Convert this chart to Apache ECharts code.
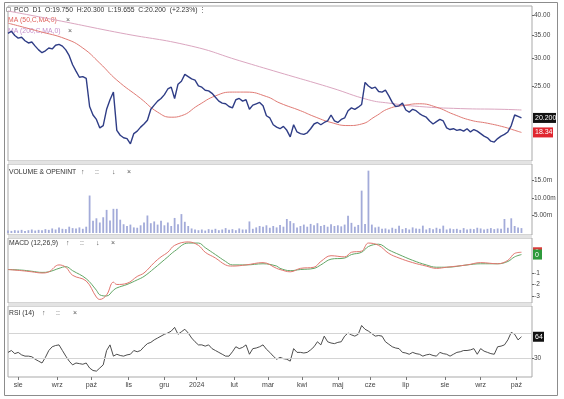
<!DOCTYPE html>
<html>
<head>
<meta charset="utf-8">
<script src="https://cdn.jsdelivr.net/npm/echarts@6/dist/echarts.min.js"></script>
<style>
  html, body { margin: 0; padding: 0; background: #fff; }
  #main { width: 564px; height: 399px; }
</style>
</head>
<body>
<div id="main"></div>
<script>
// one point every 2 sessions, Jul 2023 -> Oct 2024
const closes = [
  35.5, 36.0, 35.0, 34.4, 34.6, 33.8, 33.3, 33.5, 32.6, 31.8,
  31.2, 31.6, 32.2, 32.0, 32.8, 33.0, 32.6, 31.8, 30.6, 28.8,
  27.6, 26.5, 26.6, 26.3, 21.8, 20.6, 20.0, 18.9, 19.2, 21.4,
  22.8, 24.0, 18.6, 18.0, 17.7, 17.6, 17.0, 18.2, 18.5, 19.0,
  19.4, 19.9, 21.4, 22.0, 22.6, 23.0, 23.6, 24.5, 24.8, 23.0,
  25.3, 25.8, 27.0, 26.6, 26.2, 26.0, 25.0, 24.8, 24.3, 24.2,
  23.8, 23.2, 22.6, 22.3, 22.2, 21.8, 21.6, 22.8, 23.0, 22.6,
  22.8, 21.4, 22.0, 22.2, 22.4, 21.9, 20.5, 20.2, 19.3, 19.0,
  18.8, 19.1, 18.6, 17.8, 19.3, 18.4, 18.2, 18.1, 18.3, 18.8,
  19.4, 19.6, 19.3, 19.6, 19.8, 20.6, 19.8, 19.6, 20.0, 20.2,
  21.2, 21.6, 21.4, 21.7, 22.1, 25.6, 25.0, 24.6, 24.8, 24.1,
  24.0, 24.3, 23.4, 22.4, 21.8, 21.9, 22.3, 21.3, 21.0, 21.4,
  21.2, 20.8, 20.5, 20.3, 19.8, 19.4, 19.7, 20.0, 19.8, 18.9,
  18.7, 18.8, 18.6, 18.7, 18.5, 18.8, 18.4, 18.7, 18.5, 18.2,
  17.9, 17.7, 17.3, 17.2, 17.6, 17.9, 18.1, 18.4, 19.2, 20.6,
  20.4, 20.2
];

// moving averages: [point index, value]
const ma50 = [
  [0, 38.0], [9, 36.0], [17, 34.2], [22, 32.2], [27, 29.1], [32, 26.0],
  [39, 23.0], [44, 21.0], [48, 20.3], [51, 20.5], [56, 22.0], [61, 23.4],
  [66, 24.0], [70, 24.0], [76, 23.3], [80, 22.3], [86, 21.2], [90, 20.4],
  [95, 19.6], [100, 19.2], [104, 19.4], [108, 20.4], [112, 21.5], [117, 22.0],
  [121, 22.2], [126, 21.7], [131, 20.7], [136, 19.9], [141, 19.5], [146, 19.0],
  [149, 18.6], [151, 18.34]
];
const ma200 = [
  [0, 41.2], [14, 38.8], [33, 35.6], [54, 32.6], [68, 29.6], [80, 27.3],
  [95, 24.7], [106, 22.8], [112, 22.3], [121, 21.8], [133, 21.5], [145, 21.4],
  [151, 21.3]
];

// volume, millions
const volumes = [
  0.7, 0.6, 0.8, 0.7, 0.9, 0.6, 0.8, 1.0, 0.7, 0.9, 0.8, 1.1, 0.9,
  1.3, 1.0, 1.6, 1.2, 1.1, 1.8, 1.4, 1.3, 1.6, 1.2, 1.8,
  10.7,
  3.5, 4.2, 3.0, 4.5, 6.6, 3.6, 6.9, 6.9, 3.8, 2.5, 2.0, 2.4, 1.6, 1.5, 2.2, 3.0,
  5.0, 2.8, 3.3, 2.4, 3.5, 2.2, 3.0, 2.0, 4.3, 2.5, 5.4, 3.2, 2.0, 1.3, 1.0,
  0.8, 1.0, 0.7, 1.1, 0.9, 1.2, 0.8, 1.0, 1.4, 0.9, 1.1, 0.8, 1.3, 1.0, 1.0,
  3.3, 1.2, 1.6, 2.0, 1.8, 2.2, 1.5, 2.0, 1.6, 2.3, 1.8, 4.0, 3.4, 2.8, 1.6,
  2.0, 2.4, 1.8, 2.6, 2.2, 2.8, 2.0, 2.3, 1.8, 2.5, 2.0, 2.2, 1.9, 2.4,
  4.9, 2.9, 1.8, 2.3, 12.1, 2.6, 17.8, 2.4, 1.6, 1.8, 1.2,
  1.3, 1.0, 1.5, 1.2, 2.1, 1.1, 1.4, 1.0, 1.6, 1.3, 1.2, 2.1, 1.0, 1.4, 1.1,
  1.5, 1.2, 2.1, 1.0, 1.3, 1.1, 1.2, 0.9, 1.4, 1.0, 1.2, 1.1, 1.5, 1.3, 1.0,
  1.2, 1.4, 1.1, 1.3, 1.2,
  4.0, 1.5, 4.2, 2.0, 1.6, 1.4
];

// MACD (12,26,9): [point index, value]
const macdLine = [
  [0, -0.7], [4, -0.8], [7, -0.9], [10, -1.0], [12, -0.9], [15, -0.3], [17, -0.5],
  [19, -1.2], [23, -1.7], [26, -3.1], [27, -3.3], [29, -2.9], [31, -1.8], [32, -2.0],
  [35, -1.9], [38, -1.3], [40, -1.0], [43, -0.1], [45, 0.4], [47, 0.8], [49, 1.4],
  [53, 1.7], [56, 1.4], [58, 0.8], [61, 0.3], [64, -0.3], [66, -0.4], [70, -0.3],
  [75, -0.1], [79, -0.6], [80, -0.7], [83, -0.9], [86, -0.6], [90, -0.5], [92, 0.0],
  [95, 0.5], [99, 0.4], [101, 0.8], [104, 0.9], [106, 1.6], [109, 1.4], [112, 0.7],
  [115, 0.3], [119, -0.1], [123, -0.4], [126, -0.6], [129, -0.5], [135, -0.3],
  [139, -0.1], [144, -0.2], [147, 0.1], [149, 0.7], [151, 0.8]
];
const macdSignal = [
  [0, -0.7], [4, -0.75], [7, -0.85], [10, -0.95], [12, -0.9], [15, -0.6], [17, -0.45],
  [19, -0.8], [23, -1.5], [26, -2.5], [27, -2.9], [29, -3.0], [31, -2.5], [32, -2.3],
  [35, -2.0], [38, -1.6], [40, -1.3], [43, -0.6], [45, -0.1], [47, 0.4], [49, 0.9],
  [53, 1.6], [56, 1.6], [58, 1.2], [61, 0.6], [64, 0.0], [66, -0.3], [70, -0.3],
  [75, -0.2], [79, -0.4], [80, -0.6], [83, -0.8], [86, -0.7], [90, -0.6], [92, -0.3],
  [95, 0.2], [99, 0.3], [101, 0.6], [104, 0.8], [106, 1.3], [109, 1.5], [112, 1.0],
  [115, 0.6], [119, 0.1], [123, -0.3], [126, -0.5], [129, -0.5], [135, -0.3],
  [139, -0.2], [144, -0.2], [147, 0.0], [149, 0.4], [151, 0.6]
];

// RSI (14)
const rsi = [
  39, 42, 37, 39, 35, 33, 33, 32, 28, 25, 22, 31, 42, 48, 50, 51, 42, 33, 25, 19,
  22, 21, 20, 22, 14, 10, 9, 14, 19, 42, 51, 33, 36, 34, 33, 35, 36, 42, 40, 42,
  48, 53, 55, 59, 62, 65, 68, 70, 73, 79, 68, 72, 76, 70, 62, 56, 51, 51, 49, 51,
  45, 42, 39, 36, 33, 33, 40, 48, 45, 47, 51, 36, 45, 46, 48, 51, 44, 39, 33, 28,
  31, 29, 28, 25, 45, 39, 39, 38, 39, 43, 48, 56, 51, 65, 56, 54, 53, 55, 56, 65,
  70, 67, 65, 68, 82, 76, 73, 69, 65, 66, 65, 56, 52, 48, 46, 45, 39, 38, 36, 39,
  37, 36, 33, 35, 36, 34, 33, 39, 37, 36, 33, 36, 39, 40, 42, 42, 43, 45, 36, 45,
  41, 39, 37, 36, 48, 49, 51, 59, 71, 68, 59, 64
];
const rsiLevels = [70, 30];

const monthLabels = ['sie', 'wrz', 'paź', 'lis', 'gru', '2024', 'lut', 'mar', 'kwi', 'maj', 'cze', 'lip', 'sie', 'wrz', 'paź'];
const monthTicks = [3, 14.5, 24.5, 35.5, 46, 55.5, 66.5, 76.5, 86.5, 97, 106.5, 117, 128.5, 139, 149.5];
const priceTicks = [25, 30, 35, 40];
const volTicks = [5, 10, 15];
const volTickLabels = ['5.00m', '10.00m', '15.0m'];
const macdTicks = [-3, -2, -1];
const rsiTicks = [30];

const FONT = 'Liberation Sans, Arial, sans-serif';
const chart = echarts.init(document.getElementById('main'));

const grids = [
  { top: 6, height: 155 },
  { top: 164, height: 71 },
  { top: 238, height: 65 },
  { top: 306, height: 71 }
].map(g => ({
  left: 8, width: 524, top: g.top, height: g.height,
  show: true, borderColor: '#a9a9a9', borderWidth: 1, backgroundColor: 'transparent'
}));

function monthName(v) {
  let best = 0;
  monthTicks.forEach((t, i) => { if (Math.abs(t - v) < Math.abs(monthTicks[best] - v)) best = i; });
  return monthLabels[best];
}

const xAxes = [0, 1, 2, 3].map(g => ({
  type: 'value', gridIndex: g, min: 0, max: 154.1,
  axisLine: { show: false, onZero: false },
  axisTick: { show: g === 3, customValues: monthTicks, length: 3, lineStyle: { color: '#777' } },
  axisLabel: { show: g === 3, customValues: monthTicks, formatter: monthName, fontSize: 7, color: '#444', margin: 5, fontFamily: FONT },
  splitLine: { show: false }
}));

function rightAxis(g, extra, ticks, fmt) {
  return Object.assign({
    gridIndex: g, position: 'right',
    axisLine: { show: false, onZero: false },
    axisTick: { show: true, customValues: ticks, length: 2, lineStyle: { color: '#666' } },
    axisLabel: { customValues: ticks, formatter: fmt, fontSize: 6.5, color: '#444', margin: 2, fontFamily: FONT },
    splitLine: { show: false }
  }, extra);
}

const yAxes = [
  rightAxis(0, { type: 'log', min: 15.16, max: 42.6 }, priceTicks, v => Number(v).toFixed(2)),
  rightAxis(1, { type: 'value', min: -0.57, max: 19.7 }, volTicks, v => volTickLabels[volTicks.indexOf(v)] || ''),
  rightAxis(2, { type: 'value', min: -3.61, max: 2.04 }, macdTicks, v => String(v)),
  rightAxis(3, { type: 'value', min: -0.4, max: 113.2 }, rsiTicks, v => String(v))
];

const idx = arr => arr.map((v, i) => [i, v]);

const series = [
  { type: 'line', xAxisIndex: 0, yAxisIndex: 0, data: ma200, smooth: 0.5, showSymbol: false,
    lineStyle: { color: '#dba6c0', width: 1 }, silent: true },
  { type: 'line', xAxisIndex: 0, yAxisIndex: 0, data: ma50, smooth: 0.5, showSymbol: false,
    lineStyle: { color: '#e07a74', width: 1 }, silent: true },
  { type: 'line', xAxisIndex: 0, yAxisIndex: 0, data: idx(closes), showSymbol: false,
    lineStyle: { color: '#2f3d86', width: 1.4 }, silent: true },
  { type: 'bar', xAxisIndex: 1, yAxisIndex: 1, data: idx(volumes), barWidth: 1.8,
    itemStyle: { color: '#a3abd9' }, silent: true },
  { type: 'line', xAxisIndex: 2, yAxisIndex: 2, data: macdSignal, smooth: 0.4, showSymbol: false,
    lineStyle: { color: '#62a766', width: 1 }, silent: true },
  { type: 'line', xAxisIndex: 2, yAxisIndex: 2, data: macdLine, smooth: 0.4, showSymbol: false,
    lineStyle: { color: '#e2766f', width: 1 }, silent: true },
  { type: 'line', xAxisIndex: 3, yAxisIndex: 3, data: idx(rsi), showSymbol: false,
    lineStyle: { color: '#3a3a3a', width: 0.9 }, silent: true,
    markLine: { silent: true, symbol: 'none', label: { show: false },
      lineStyle: { color: '#d4d4d4', type: 'solid', width: 1 },
      data: rsiLevels.map(v => ({ yAxis: v })) } }
];

function txt(x, y, text, color, size) {
  return { type: 'text', x: x, y: y, silent: true,
    style: { text: text, fill: color || '#333', font: (size || 7) + 'px ' + FONT, verticalAlign: 'middle' } };
}

const staticGraphics = [
  { type: 'rect', silent: true, shape: { x: 4.5, y: 2.5, width: 553, height: 393 },
    style: { fill: 'none', stroke: '#8c8c8c', lineWidth: 1 } },
  { type: 'rect', silent: true, shape: { x: 8, y: 161, width: 524, height: 3 }, style: { fill: '#e3e3e3' } },
  { type: 'rect', silent: true, shape: { x: 8, y: 235, width: 524, height: 3 }, style: { fill: '#e3e3e3' } },
  { type: 'rect', silent: true, shape: { x: 8, y: 303, width: 524, height: 3 }, style: { fill: '#e3e3e3' } },
  { type: 'rect', silent: true, shape: { x: 6.5, y: 7.5, width: 4, height: 4 },
    style: { fill: '#fff', stroke: '#aaa', lineWidth: 1 } },
  txt(14, 10, 'PCO  D1  O:19.750  H:20.300  L:19.655  C:20.200  (+2.23%)', '#333', 6.8),
  txt(199, 10, '⋮', '#666', 7),
  txt(8, 20, 'MA (50,C,MA,0)', '#e0605a', 6.8),
  txt(66, 20, '×', '#555', 7),
  txt(8, 31, 'MA (200,C,MA,0)', '#c58fcb', 6.8),
  txt(68, 31, '×', '#555', 7),
  txt(9, 172, 'VOLUME & OPENINT', '#333', 6.8),
  txt(81, 172, '↑', '#555', 7), txt(95, 172, '::', '#555', 7),
  txt(112, 172, '↓', '#555', 7), txt(127, 172, '×', '#555', 7),
  txt(9, 243, 'MACD (12,26,9)', '#333', 6.8),
  txt(66, 243, '↑', '#555', 7), txt(80, 243, '::', '#555', 7),
  txt(96, 243, '↓', '#555', 7), txt(111, 243, '×', '#555', 7),
  txt(9, 313, 'RSI (14)', '#333', 6.8),
  txt(42, 313, '↑', '#555', 7), txt(56, 313, '::', '#555', 7),
  txt(73, 313, '×', '#555', 7)
];

chart.setOption({
  animation: false,
  backgroundColor: '#fff',
  textStyle: { fontFamily: FONT },
  grid: grids,
  xAxis: xAxes,
  yAxis: yAxes,
  series: series,
  graphic: staticGraphics
});

// value tags on the right axis, placed through the chart's own scales
const last = closes.length - 1;
function tag(gridIndex, value, text, bg, width) {
  const p = chart.convertToPixel({ xAxisIndex: gridIndex, yAxisIndex: gridIndex }, [last, value]);
  return {
    type: 'group', x: 533, y: p[1] - 5, silent: true,
    children: [
      { type: 'rect', shape: { x: 0, y: 0, width: width, height: 10 }, style: { fill: bg } },
      { type: 'text', x: 2, y: 5, style: { text: text, fill: '#fff', font: '7px ' + FONT, verticalAlign: 'middle' } }
    ]
  };
}

const tags = [
  tag(0, closes[last], '20.200', '#111', 23),
  tag(0, ma50[ma50.length - 1][1], '18.34', '#e0262f', 20),
  tag(2, macdLine[macdLine.length - 1][1], '0', '#d83a3a', 9),
  tag(2, macdSignal[macdSignal.length - 1][1], '0', '#2e9a3c', 9),
  tag(3, rsi[last], '64', '#111', 11)
];

chart.setOption({ graphic: staticGraphics.concat(tags) });
</script>
</body>
</html>
